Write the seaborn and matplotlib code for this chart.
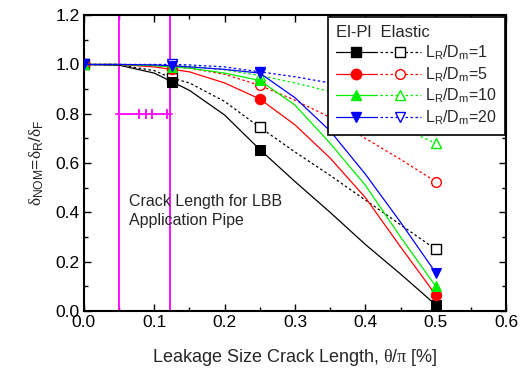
import matplotlib
matplotlib.use("Agg")
import matplotlib.pyplot as plt
import seaborn as sns
import pandas as pd
from matplotlib.lines import Line2D
from matplotlib.legend_handler import HandlerTuple

# ---- data ----
x_vals = [0.0, 0.05, 0.1, 0.125, 0.15, 0.2, 0.25, 0.3, 0.35, 0.4, 0.45, 0.5]
marker_idx = [0, 3, 6, 11]

elpl_1 = [1.0, 0.997, 0.965, 0.93, 0.895, 0.795, 0.655, 0.525, 0.40, 0.27, 0.15, 0.025]
elas_1 = [1.0, 0.998, 0.975, 0.945, 0.925, 0.85, 0.745, 0.645, 0.55, 0.45, 0.35, 0.25]
elpl_5 = [1.0, 1.0, 0.99, 0.98, 0.97, 0.925, 0.86, 0.755, 0.62, 0.46, 0.26, 0.065]
elas_5 = [1.0, 1.0, 0.995, 0.99, 0.985, 0.96, 0.915, 0.855, 0.785, 0.70, 0.615, 0.525]
elpl_10 = [1.0, 1.0, 0.995, 0.99, 0.985, 0.965, 0.935, 0.835, 0.68, 0.51, 0.30, 0.10]
elas_10 = [1.0, 1.0, 0.998, 0.995, 0.993, 0.978, 0.955, 0.925, 0.89, 0.825, 0.745, 0.68]
elpl_20 = [1.0, 1.0, 0.998, 0.995, 0.99, 0.98, 0.965, 0.865, 0.73, 0.555, 0.36, 0.155]
elas_20 = [1.0, 1.0, 1.0, 1.0, 0.998, 0.99, 0.97, 0.95, 0.925, 0.89, 0.85, 0.81]

ratios = ["1", "5", "10", "20"]
colors = ["#000000", "#ff0000", "#00ee00", "#0000ff"]
markers = ["s", "o", "^", "v"]

lbb_lines = [0.05, 0.122]
range_y = 0.8
range_x = [0.045, 0.078, 0.088, 0.097, 0.118, 0.125]

xticks = [0.0, 0.1, 0.2, 0.3, 0.4, 0.5, 0.6]
yticks = [0.0, 0.2, 0.4, 0.6, 0.8, 1.0, 1.2]

# ---- style ----
sns.set_theme(style="ticks")
plt.rcParams["font.family"] = ["Liberation Sans", "DejaVu Sans"]
plt.rcParams["mathtext.fontset"] = "custom"
plt.rcParams["mathtext.rm"] = "Liberation Sans"
plt.rcParams["mathtext.it"] = "Liberation Serif"
plt.rcParams["mathtext.sf"] = "Liberation Sans"

fig = plt.figure(figsize=(5.24, 3.69), dpi=100)
ax = fig.add_axes([0.160, 0.157, 0.806, 0.802])

elpl = [elpl_1, elpl_5, elpl_10, elpl_20]
elas = [elas_1, elas_5, elas_10, elas_20]

for vline in lbb_lines:
    ax.axvline(vline, color="#ff00ff", lw=1.3, zorder=1)
sns.lineplot(x=[range_x[0], range_x[-1]], y=[range_y, range_y], ax=ax,
             color="#ff00ff", lw=1.3, zorder=1)
sns.scatterplot(x=range_x[1:-1], y=[range_y] * (len(range_x) - 2), ax=ax,
                color="#ff00ff", marker="|", s=45, linewidth=1.3, zorder=1)

for i in range(4):
    df_p = pd.DataFrame({"x": x_vals, "y": elpl[i]})
    df_e = pd.DataFrame({"x": x_vals, "y": elas[i]})
    sns.lineplot(data=df_e, x="x", y="y", ax=ax, color=colors[i], lw=0.9,
                 linestyle=(0, (2, 2)), marker=markers[i], markevery=marker_idx,
                 markersize=7, markerfacecolor="white", markeredgecolor=colors[i],
                 mew=1.0, zorder=3)
    sns.lineplot(data=df_p, x="x", y="y", ax=ax, color=colors[i], lw=0.9,
                 marker=markers[i], markevery=marker_idx, markersize=7.5,
                 markerfacecolor=colors[i], markeredgecolor=colors[i], zorder=4)

ax.text(0.064, 0.475, "Crack Length for LBB\nApplication Pipe", fontsize=11.5,
        va="top", ha="left", linespacing=1.3)

ax.set_xlim(0, 0.6)
ax.set_ylim(0, 1.2)
ax.set_xticks(xticks)
ax.set_yticks(yticks)
ax.set_xticklabels([f"{t:.1f}" for t in xticks])
ax.set_yticklabels([f"{t:.1f}" for t in yticks])
ax.set_xticks([0.05, 0.15, 0.25, 0.35, 0.45, 0.55], minor=True)
ax.set_yticks([0.1, 0.3, 0.5, 0.7, 0.9, 1.1], minor=True)
ax.tick_params(which="both", direction="in", top=True, right=True, color="black",
               labelsize=12.5, width=1.0)
ax.tick_params(which="major", length=5)
ax.tick_params(which="minor", length=3)
ax.tick_params(axis="both", which="major", pad=3, labelcolor="black")
for s in ax.spines.values():
    s.set_linewidth(1.5)
    s.set_color("black")
    s.set_visible(True)

ax.set_xlabel(r"Leakage Size Crack Length, $\theta/\pi$ [%]", fontsize=13, labelpad=12)
ax.set_ylabel(r"$\delta_{\mathrm{NOM}}$=$\delta_{\mathrm{R}}$/$\delta_{\mathrm{F}}$",
              fontsize=12.5, labelpad=7)

handles = []
labels = []
for i in range(4):
    h1 = Line2D([], [], color=colors[i], lw=0.9, marker=markers[i], markersize=7.5,
                markerfacecolor=colors[i], markeredgecolor=colors[i])
    h2 = Line2D([], [], color=colors[i], lw=0.9, linestyle=(0, (2, 2)),
                marker=markers[i], markersize=7, markerfacecolor="white",
                markeredgecolor=colors[i])
    handles.append((h1, h2))
    labels.append(r"L$_\mathrm{R}$/D$_\mathrm{m}$=" + ratios[i])

leg = ax.legend(handles, labels, handler_map={tuple: HandlerTuple(ndivide=None, pad=0.2)},
                loc="upper right", bbox_to_anchor=(0.998, 0.992), fontsize=11.5,
                title="El-Pl  Elastic", title_fontsize=12, frameon=True,
                fancybox=False, edgecolor="black", framealpha=1.0, handlelength=5.3,
                handletextpad=0.3, labelspacing=0.2, borderpad=0.5,
                borderaxespad=0.0)
leg.get_frame().set_linewidth(1.2)
leg.set_zorder(10)
leg._legend_box.align = "left"

fig.savefig("out.png", dpi=100)
